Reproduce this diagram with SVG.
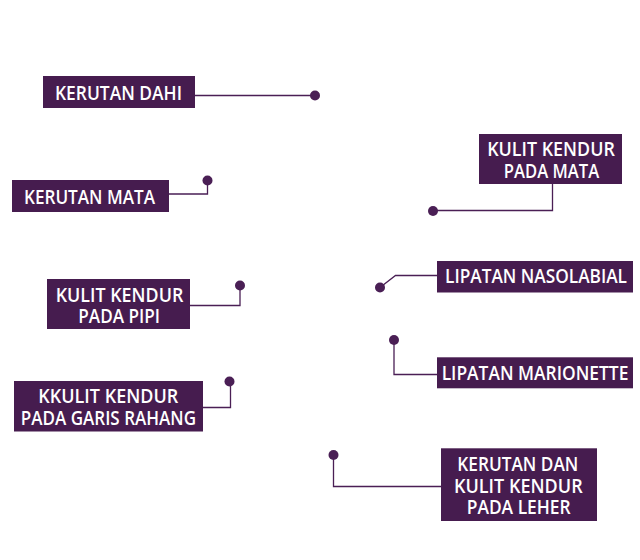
<svg xmlns="http://www.w3.org/2000/svg" width="640" height="560" viewBox="0 0 640 560">
<style>
.box{fill:#461c4f}
.t{font-family:"Open Sans","Liberation Sans",sans-serif;font-weight:600;font-size:19.5px;fill:#ffffff;text-anchor:middle}
.ln{fill:none;stroke:#4a1f55;stroke-width:1.3}
.dot{fill:#4a1f55}
</style>
<rect width="640" height="560" fill="#ffffff"/>
<g id="connectors">
<path class="ln" d="M195,95.5 H315"/>
<path class="ln" d="M169,194 H207.5 V180.5"/>
<path class="ln" d="M552.5,184 V210.5 H433"/>
<path class="ln" d="M437,275.5 H395.5 L380,287.5"/>
<path class="ln" d="M190,305.5 H240 V285.5"/>
<path class="ln" d="M203,407.5 H230.5 V381.5"/>
<path class="ln" d="M394,340 V374.5 H437"/>
<path class="ln" d="M333.5,455 V486.5 H441"/>
<circle class="dot" cx="315" cy="95.5" r="5"/>
<circle class="dot" cx="207.5" cy="180.5" r="5"/>
<circle class="dot" cx="433" cy="211" r="5"/>
<circle class="dot" cx="380" cy="287.5" r="5"/>
<circle class="dot" cx="240" cy="285.5" r="5"/>
<circle class="dot" cx="229.5" cy="381.5" r="5"/>
<circle class="dot" cx="394" cy="340" r="5"/>
<circle class="dot" cx="333.5" cy="455" r="5"/>
</g>
<g id="n-kerutan-dahi">
<rect class="box" x="43" y="76" width="152" height="32"/>
<text class="t" x="118.5" y="99.5" textLength="127" lengthAdjust="spacingAndGlyphs">KERUTAN DAHI</text>
</g>
<g id="n-kerutan-mata">
<rect class="box" x="12" y="180" width="157" height="32"/>
<text class="t" x="89.5" y="203.5" textLength="131" lengthAdjust="spacingAndGlyphs">KERUTAN MATA</text>
</g>
<g id="n-kulit-kendur-mata">
<rect class="box" x="479" y="134" width="143" height="50"/>
<text class="t" x="551" y="155.7" textLength="127.7" lengthAdjust="spacingAndGlyphs">KULIT KENDUR</text>
<text class="t" x="551.5" y="178.3" textLength="95.3" lengthAdjust="spacingAndGlyphs">PADA MATA</text>
</g>
<g id="n-lipatan-nasolabial">
<rect class="box" x="437" y="261" width="196" height="31.5"/>
<text class="t" x="536" y="283.3" textLength="182" lengthAdjust="spacingAndGlyphs">LIPATAN NASOLABIAL</text>
</g>
<g id="n-kulit-kendur-pipi">
<rect class="box" x="47" y="279" width="143" height="50"/>
<text class="t" x="119.5" y="301.7" textLength="127.6" lengthAdjust="spacingAndGlyphs">KULIT KENDUR</text>
<text class="t" x="119.2" y="323.3" textLength="81.7" lengthAdjust="spacingAndGlyphs">PADA PIPI</text>
</g>
<g id="n-kulit-kendur-rahang">
<rect class="box" x="14" y="381" width="189" height="50.5"/>
<text class="t" x="108.3" y="403.3" textLength="140" lengthAdjust="spacingAndGlyphs">KKULIT KENDUR</text>
<text class="t" x="108.4" y="425.3" textLength="175.3" lengthAdjust="spacingAndGlyphs">PADA GARIS RAHANG</text>
</g>
<g id="n-lipatan-marionette">
<rect class="box" x="437" y="357.3" width="196" height="31"/>
<text class="t" x="535" y="380" textLength="186.7" lengthAdjust="spacingAndGlyphs">LIPATAN MARIONETTE</text>
</g>
<g id="n-leher">
<rect class="box" x="441" y="448.3" width="156" height="72.7"/>
<text class="t" x="517.8" y="470.7" textLength="121" lengthAdjust="spacingAndGlyphs">KERUTAN DAN</text>
<text class="t" x="518.3" y="492.7" textLength="128.7" lengthAdjust="spacingAndGlyphs">KULIT KENDUR</text>
<text class="t" x="518.7" y="514" textLength="104" lengthAdjust="spacingAndGlyphs">PADA LEHER</text>
</g>
</svg>
